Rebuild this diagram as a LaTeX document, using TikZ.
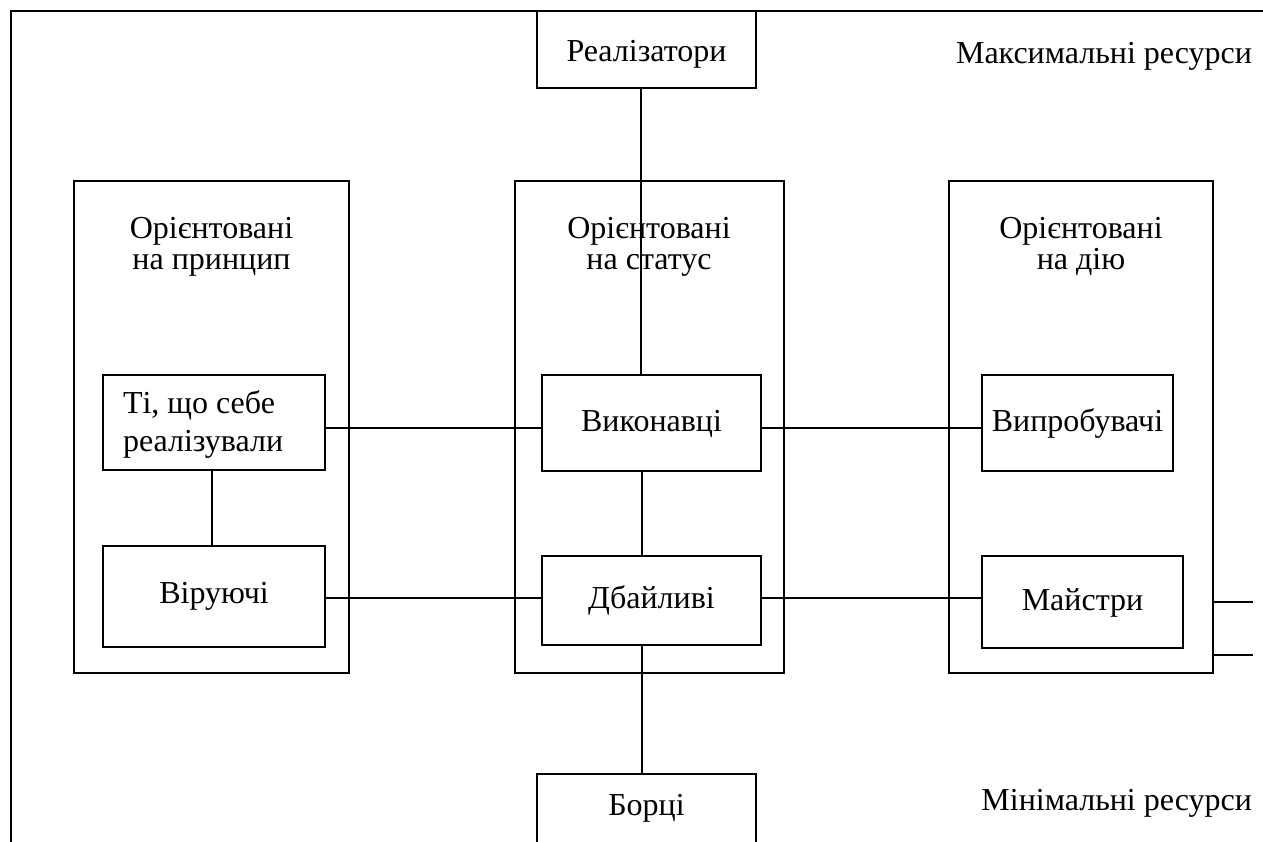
\documentclass[tikz,border=0pt]{standalone}
\usepackage{fontspec}
\setmainfont{Liberation Serif}
\begin{document}
\begin{tikzpicture}[x=1pt,y=-1pt,
  every node/.style={font=\fontsize{32}{38}\selectfont, inner sep=0pt, outer sep=0pt},
  box/.style={draw, line width=2.3pt, inner sep=0pt},
  conn/.style={line width=2.3pt}]
\useasboundingbox (0,0) rectangle (1263,841);
\fill[white] (0,0) rectangle (1263,841);
% outer frame
\coordinate (fb) at (11,850);
\coordinate (fc) at (11,11);
\coordinate (fr) at (1270,11);
\draw[conn] (fb) -- (fc) -- (fr);

% column boxes
\node[box, minimum width=275pt, minimum height=492pt] (colL) at (211.5,427) {};
\node[box, minimum width=269pt, minimum height=492pt] (colM) at (649.5,427) {};
\node[box, minimum width=264pt, minimum height=492pt] (colR) at (1081,427) {};

% column titles
\node[anchor=base] (tL1) at (211.5,238) {Орієнтовані};
\node[anchor=base] (tL2) at (211.5,269) {на принцип};
\node[anchor=base] (tM1) at (649,238) {Орієнтовані};
\node[anchor=base] (tM2) at (649,269) {на статус};
\node[anchor=base] (tR1) at (1081,238) {Орієнтовані};
\node[anchor=base] (tR2) at (1081,269) {на дію};

% boxes
\node[box, minimum width=219pt, minimum height=77pt, text height=28pt, text depth=4pt] (real) at (646.5,49.5) {Реалізатори};
\node[box, minimum width=222pt, minimum height=95pt] (ti) at (214,422.5) {};
\node[anchor=base west] (ti1) at (123,413) {Ті, що себе};
\node[anchor=base west] (ti2) at (123,451) {реалізували};
\node[box, minimum width=219pt, minimum height=96pt, text height=24pt, text depth=8pt] (vyk) at (651.5,423) {Виконавці};
\node[box, minimum width=191pt, minimum height=96pt, text height=24pt, text depth=8pt] (vypr) at (1077.5,423) {Випробувачі};
\node[box, minimum width=222pt, minimum height=101pt, text height=22pt, text depth=9pt] (vir) at (214,596.5) {Віруючі};
\node[box, minimum width=219pt, minimum height=89pt, text height=23pt, text depth=8pt] (dba) at (651.5,600.5) {Дбайливі};
\node[box, minimum width=201pt, minimum height=92pt, text height=24pt, text depth=8pt] (maj) at (1082.5,602) {Майстри};
\node[box, anchor=north, minimum width=219pt, minimum height=90pt, text height=41pt, text depth=49pt] (borci) at (646.5,774) {Борці};

% resource labels
\node[anchor=base east] (maxr) at (1252,63) {Максимальні ресурси};
\node[anchor=base east] (minr) at (1252,810) {Мінімальні ресурси};

% connectors
\draw[conn] ([xshift=-5.5pt]real.south) -- ([xshift=-10.5pt]vyk.north);
\draw[conn] ([xshift=-9.5pt]vyk.south) -- ([xshift=-9.5pt]dba.north);
\draw[conn] ([xshift=-9.5pt]dba.south) -- ([xshift=-4.5pt]borci.north);
\draw[conn] ([xshift=-2pt]ti.south) -- ([xshift=-2pt]vir.north);
\draw[conn] (ti.east |- 0,428) -- (vyk.west |- 0,428);
\draw[conn] (vyk.east |- 0,428) -- (vypr.west |- 0,428);
\draw[conn] (vir.east |- 0,598) -- (dba.west |- 0,598);
\draw[conn] (dba.east |- 0,598) -- (maj.west |- 0,598);
\coordinate (s1) at (1253,602);
\coordinate (s2) at (1253,655);
\draw[conn] (colR.east |- s1) -- (s1);
\draw[conn] (colR.east |- s2) -- (s2);
\end{tikzpicture}
\end{document}
